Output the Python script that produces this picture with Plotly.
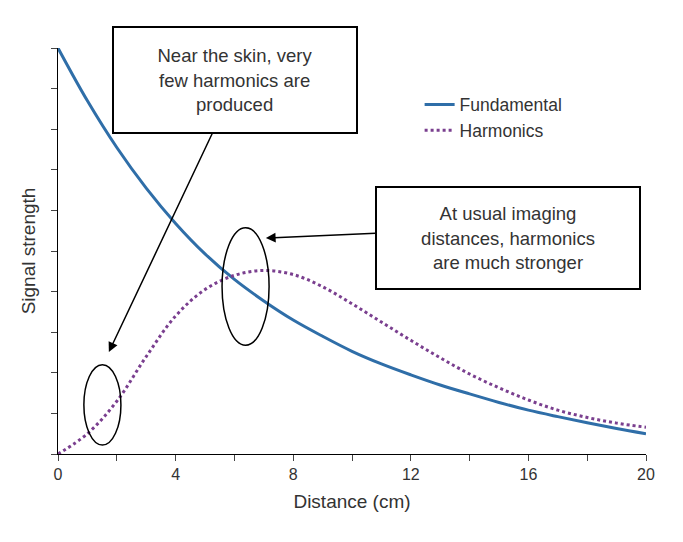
import plotly.graph_objects as go

distance = list(range(0, 21))
fundamental = [10, 8.7, 7.55, 6.55, 5.68, 4.93, 4.3, 3.77, 3.3, 2.9, 2.53, 2.22, 1.95, 1.7,
               1.48, 1.27, 1.08, 0.92, 0.77, 0.63, 0.5]
harmonics = [0, 0.5, 1.3, 2.4, 3.4, 4.05, 4.4, 4.52, 4.42, 4.12, 3.7, 3.25, 2.8, 2.37,
             1.97, 1.63, 1.33, 1.08, 0.9, 0.76, 0.66]
x_ticks = list(range(0, 21, 2))
x_labels = [str(v) if v % 4 == 0 else "" for v in x_ticks]

font = "Liberation Sans, Arial, sans-serif"
fig = go.Figure()
fig.add_trace(go.Scatter(x=distance, y=fundamental, mode="lines", name="Fundamental",
                         line=dict(color="#2f6ea8", width=3, shape="spline")))
fig.add_trace(go.Scatter(x=distance, y=harmonics, mode="lines", name="Harmonics",
                         line=dict(color="#7a3f8f", width=3, dash="dot", shape="spline")))

# ellipses
fig.add_shape(type="circle", x0=0.88, x1=2.14, y0=0.22, y1=2.2, line=dict(color="black", width=1.5))
fig.add_shape(type="circle", x0=5.58, x1=7.18, y0=2.68, y1=5.57, line=dict(color="black", width=1.5))

# arrows
fig.add_annotation(x=1.73, y=2.51, ax=5.27, ay=7.93, axref="x", ayref="y", text="",
                   showarrow=True, arrowhead=2, arrowsize=1.3, arrowwidth=1.5, arrowcolor="black")
fig.add_annotation(x=7.07, y=5.32, ax=10.85, ay=5.44, axref="x", ayref="y", text="",
                   showarrow=True, arrowhead=2, arrowsize=1.3, arrowwidth=1.5, arrowcolor="black")

box = dict(showarrow=False, bordercolor="black", borderwidth=2, bgcolor="white",
           borderpad=4, font=dict(size=18.5, color="#333", family=font))
fig.add_annotation(x=6.02, y=9.21, width=234, height=96,
                   text="Near the skin, very<br>few harmonics are<br>produced", **box)
fig.add_annotation(x=15.3, y=5.32, width=254, height=92,
                   text="At usual imaging<br>distances, harmonics<br>are much stronger", **box)

fig.update_layout(
    width=683, height=542, plot_bgcolor="white", paper_bgcolor="white",
    margin=dict(l=50, r=45, t=40, b=96),
    font=dict(family=font, size=16, color="#333"),
    showlegend=True,
    legend=dict(x=0.615, y=0.905, xanchor="left", yanchor="top", bgcolor="rgba(0,0,0,0)",
                font=dict(size=17.5)),
    xaxis=dict(range=[0, 20], tickvals=x_ticks, ticktext=x_labels, ticks="outside",
               ticklen=6, showgrid=False, zeroline=False, showline=True, linecolor="black",
               automargin=False, title=dict(text="Distance (cm)", standoff=12)),
    yaxis=dict(range=[0, 10], tickvals=list(range(0, 11)), showticklabels=False,
               ticks="outside", ticklen=6, showgrid=False, zeroline=False, showline=True,
               linecolor="black", automargin=False, title=dict(text="Signal strength", standoff=10)),
)
fig.write_html("out.html")
